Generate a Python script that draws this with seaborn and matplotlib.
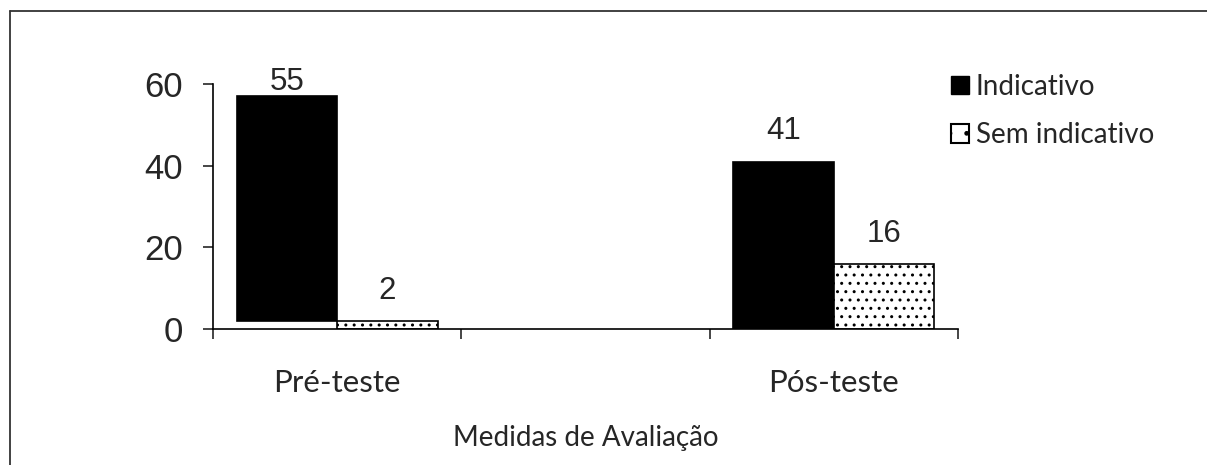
import numpy as np
import pandas as pd
import seaborn as sns
import matplotlib.pyplot as plt
from matplotlib.patches import Patch
from matplotlib.lines import Line2D

# dados
categorias = ['Pré-teste', ' ', 'Pós-teste']
grupos = ['Indicativo', 'Sem indicativo']
indicativo = [55, np.nan, 41]
sem_indicativo = [2, np.nan, 16]
base_indicativo = [2, 0, 0]   # no original a barra do pre-teste comeca em 2
yticks = [0, 20, 40, 60]
xlabel = 'Medidas de Avaliação'

df = pd.DataFrame({
    'Medida': categorias * 2,
    'Grupo': [grupos[0]] * 3 + [grupos[1]] * 3,
    'Valor': indicativo + sem_indicativo,
}).dropna()

sns.set_style('white')
plt.rcParams['font.family'] = ['Liberation Sans', 'DejaVu Sans']
calibri = ['Lato', 'DejaVu Sans']

fig = plt.figure(figsize=(12.07, 4.65), dpi=100)
ax = fig.add_axes([213 / 1207, 1 - 329 / 465, 745 / 1207, 245 / 465])

sns.barplot(data=df, x='Medida', y='Valor', hue='Grupo', order=categorias,
            hue_order=grupos, palette=['black', 'white'], width=0.81,
            gap=0, edgecolor='black', linewidth=1.2, saturation=1,
            legend=False, ax=ax)

# barras: base deslocada e hachura
for bar in ax.containers[0]:
    i = int(round(bar.get_x() + bar.get_width() / 2 + 0.2))
    bar.set_y(base_indicativo[i])
for bar in ax.containers[1]:
    bar.set_hatch('..')

# rotulos de dados
for cont in ax.containers:
    for bar in cont:
        topo = bar.get_y() + bar.get_height()
        yl = min(topo + 3.7, 56.8)
        ax.text(bar.get_x() + bar.get_width() / 2, yl, f'{bar.get_height():.0f}',
                ha='center', va='bottom', fontsize=22.5, clip_on=False)

ax.set_xlim(-0.5, 2.5)
ax.set_ylim(0, 60)
ax.set_yticks(yticks)
ax.tick_params(axis='y', labelsize=25, length=7.5, width=1.2, pad=14, direction='out', left=True)
ax.set_xticks([-0.5, 0.5, 1.5, 2.5])
ax.set_xticklabels([])
ax.set_xticks([0, 2], [categorias[0], categorias[2]], minor=True)
ax.tick_params(axis='x', which='major', length=7.5, width=1.2, direction='out', bottom=True)
ax.tick_params(axis='x', which='minor', length=0, pad=29, labelsize=22.5)
for t in ax.get_xticklabels(minor=True):
    t.set_family(calibri)
ax.set_xlabel(xlabel, fontsize=20, family=calibri, labelpad=20)
ax.set_ylabel('')
for s in ['top', 'right']:
    ax.spines[s].set_visible(False)
for s in ['left', 'bottom']:
    ax.spines[s].set_linewidth(1.2)
    ax.spines[s].set_color('black')

handles = [Patch(facecolor='black', edgecolor='black'),
           Patch(facecolor='white', edgecolor='black', hatch='.', linewidth=1.5)]
fig.legend(handles, grupos, loc='upper left', bbox_to_anchor=(937 / 1207, 1 - 60 / 465),
           frameon=False, prop={'family': calibri, 'size': 20}, handlelength=0.65,
           handleheight=0.65, handletextpad=0.25, labelspacing=0.8, borderpad=0)

# moldura do grafico
fig.add_artist(Line2D([10 / 1207, 1], [1 - 11 / 465] * 2, color='#333333', lw=1.3))
fig.add_artist(Line2D([10 / 1207] * 2, [0, 1 - 11 / 465], color='#333333', lw=1.3))

fig.savefig('out.png', dpi=100)
